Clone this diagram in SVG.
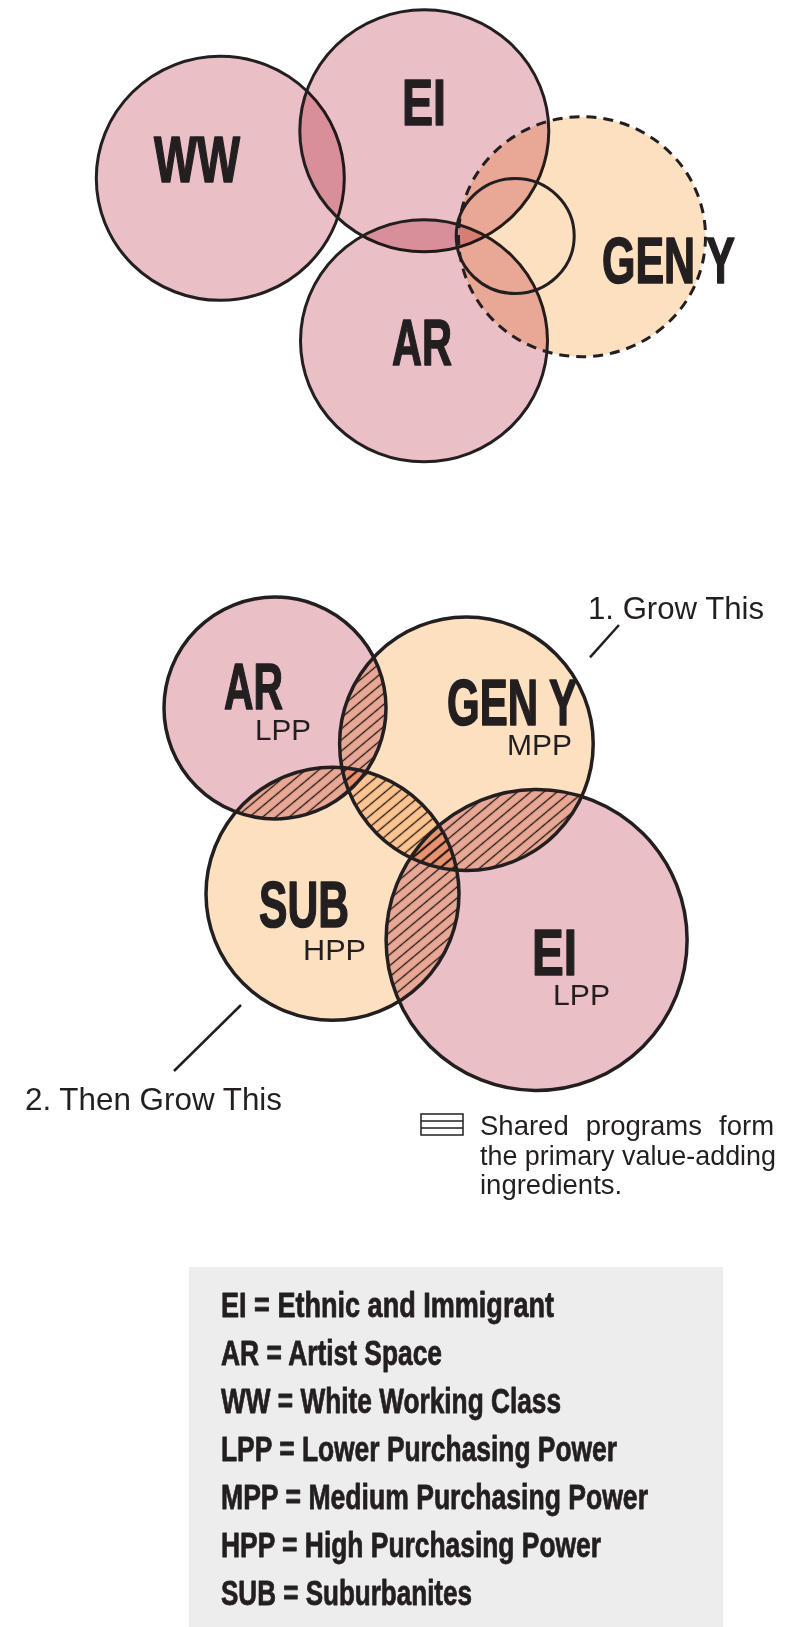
<svg xmlns="http://www.w3.org/2000/svg" width="800" height="1627" viewBox="0 0 800 1627">
<defs>
<style>
.pink{fill:#EBBFC6;mix-blend-mode:multiply}
.peach{fill:#FDE0C0;mix-blend-mode:multiply}
.ol{fill:none;stroke:#231F20;stroke-width:3}
.olb{fill:none;stroke:#231F20;stroke-width:3.5}
.dash{fill:none;stroke:#231F20;stroke-width:3;stroke-dasharray:10 7}
.big{font-family:"Liberation Sans",Arial,sans-serif;font-weight:bold;font-size:65px;fill:#231F20;stroke:#231F20;stroke-width:1.6;stroke-linejoin:round}
.sm{font-family:"Liberation Sans",Arial,sans-serif;font-size:30px;fill:#231F20}
.note{font-family:"Liberation Sans",Arial,sans-serif;font-size:32px;fill:#231F20}
.desc{font-family:"Liberation Sans",Arial,sans-serif;font-size:27.5px;fill:#231F20}
.leg{font-family:"Liberation Sans",Arial,sans-serif;font-weight:bold;font-size:35px;fill:#231F20;stroke:#231F20;stroke-width:0.8;stroke-linejoin:round}
.lead{stroke:#231F20;stroke-width:2.5;fill:none}
.hatch{mix-blend-mode:multiply}
</style>
<pattern id="hatch" patternUnits="userSpaceOnUse" width="8.5" height="8.5" patternTransform="rotate(50)">
<line x1="4.25" y1="-1" x2="4.25" y2="9.5" stroke="#231F20" stroke-width="1.3"/>
</pattern>
<clipPath id="cAR"><circle cx="275" cy="708" r="111"/></clipPath>
<clipPath id="cGY"><circle cx="466.4" cy="743.8" r="126.8"/></clipPath>
<clipPath id="cSUB"><circle cx="332.5" cy="893.8" r="126.5"/></clipPath>
</defs>
<rect width="800" height="1627" fill="#FFFFFF"/>

<!-- Top diagram -->
<g id="top-ww">
<ellipse class="pink" cx="220.3" cy="178.3" rx="124" ry="122"/>
<ellipse class="ol" cx="220.3" cy="178.3" rx="124" ry="122"/>
<text class="big" x="154" y="181.7" textLength="86" lengthAdjust="spacingAndGlyphs">WW</text>
</g>
<g id="top-ei">
<ellipse class="pink" cx="424.3" cy="130.8" rx="124.5" ry="121"/>
<ellipse class="ol" cx="424.3" cy="130.8" rx="124.5" ry="121"/>
<text class="big" x="402" y="125" textLength="44" lengthAdjust="spacingAndGlyphs">EI</text>
</g>
<g id="top-ar">
<ellipse class="pink" cx="424" cy="340.8" rx="123.5" ry="121"/>
<ellipse class="ol" cx="424" cy="340.8" rx="123.5" ry="121"/>
<text class="big" x="392" y="365" textLength="60" lengthAdjust="spacingAndGlyphs">AR</text>
</g>
<g id="top-geny">
<ellipse class="peach" cx="582" cy="236.7" rx="123.5" ry="120"/>
<ellipse class="dash" cx="582" cy="236.7" rx="123.5" ry="120"/>
<ellipse class="ol" cx="515.2" cy="236" rx="59" ry="57.5"/>
<text class="big" x="602" y="283.3" textLength="133" lengthAdjust="spacingAndGlyphs">GEN Y</text>
</g>

<!-- Bottom diagram fills -->
<g id="bot-ar">
<circle class="pink" cx="275" cy="708" r="111"/>
</g>
<g id="bot-geny">
<circle class="peach" cx="466.4" cy="743.8" r="126.8"/>
</g>
<g id="bot-sub">
<circle class="peach" cx="332.5" cy="893.8" r="126.5"/>
</g>
<g id="bot-ei">
<circle class="pink" cx="536.6" cy="940" r="150.5"/>
</g>

<g id="shared-hatch" class="hatch">
<circle cx="466.4" cy="743.8" r="126.8" fill="url(#hatch)" clip-path="url(#cAR)"/>
<circle cx="332.5" cy="893.8" r="126.5" fill="url(#hatch)" clip-path="url(#cAR)"/>
<circle cx="332.5" cy="893.8" r="126.5" fill="url(#hatch)" clip-path="url(#cGY)"/>
<circle cx="536.6" cy="940" r="150.5" fill="url(#hatch)" clip-path="url(#cGY)"/>
<circle cx="536.6" cy="940" r="150.5" fill="url(#hatch)" clip-path="url(#cSUB)"/>
</g>

<g id="bot-outlines">
<circle class="olb" cx="275" cy="708" r="111"/>
<circle class="olb" cx="466.4" cy="743.8" r="126.8"/>
<circle class="olb" cx="332.5" cy="893.8" r="126.5"/>
<circle class="olb" cx="536.6" cy="940" r="150.5"/>
</g>

<g id="bot-labels">
<text class="big" x="224" y="709.3" textLength="59" lengthAdjust="spacingAndGlyphs">AR</text>
<text class="sm" x="255" y="740" textLength="56" lengthAdjust="spacingAndGlyphs">LPP</text>
<text class="big" x="447" y="725" textLength="130" lengthAdjust="spacingAndGlyphs">GEN Y</text>
<text class="sm" x="507" y="755" textLength="65" lengthAdjust="spacingAndGlyphs">MPP</text>
<text class="big" x="259" y="926.7" textLength="90" lengthAdjust="spacingAndGlyphs">SUB</text>
<text class="sm" x="303" y="960" textLength="63" lengthAdjust="spacingAndGlyphs">HPP</text>
<text class="big" x="532" y="975" textLength="45" lengthAdjust="spacingAndGlyphs">EI</text>
<text class="sm" x="553" y="1005" textLength="57" lengthAdjust="spacingAndGlyphs">LPP</text>
</g>

<g id="connectors">
<line class="lead" x1="619" y1="625" x2="590" y2="657.3"/>
<line class="lead" x1="241" y1="1005" x2="174" y2="1071"/>
</g>

<g id="note-1">
<text class="note" x="588" y="619.3" textLength="176" lengthAdjust="spacingAndGlyphs">1. Grow This</text>
</g>
<g id="note-2">
<text class="note" x="25" y="1110" textLength="257" lengthAdjust="spacingAndGlyphs">2. Then Grow This</text>
</g>

<g id="hatch-legend">
<rect x="421" y="1114" width="42" height="21" fill="#FFFFFF" stroke="#231F20" stroke-width="1.5"/>
<line x1="421" y1="1121" x2="463" y2="1121" stroke="#231F20" stroke-width="1.5"/>
<line x1="421" y1="1128" x2="463" y2="1128" stroke="#231F20" stroke-width="1.5"/>
<text class="desc" x="480" y="1135" word-spacing="9.5">Shared programs form</text>
<text class="desc" x="480" y="1164.5" textLength="296" lengthAdjust="spacingAndGlyphs">the primary value-adding</text>
<text class="desc" x="480" y="1194">ingredients.</text>
</g>

<g id="key">
<rect x="189" y="1267" width="534" height="360" fill="#EDEDED"/>
<text class="leg" x="221" y="1316.7" textLength="333" lengthAdjust="spacingAndGlyphs">EI = Ethnic and Immigrant</text>
<text class="leg" x="221" y="1364.8" textLength="221" lengthAdjust="spacingAndGlyphs">AR = Artist Space</text>
<text class="leg" x="221" y="1412.8" textLength="340" lengthAdjust="spacingAndGlyphs">WW = White Working Class</text>
<text class="leg" x="221" y="1460.9" textLength="396" lengthAdjust="spacingAndGlyphs">LPP = Lower Purchasing Power</text>
<text class="leg" x="221" y="1508.9" textLength="427" lengthAdjust="spacingAndGlyphs">MPP = Medium Purchasing Power</text>
<text class="leg" x="221" y="1557" textLength="380" lengthAdjust="spacingAndGlyphs">HPP = High Purchasing Power</text>
<text class="leg" x="221" y="1605" textLength="251" lengthAdjust="spacingAndGlyphs">SUB = Suburbanites</text>
</g>
</svg>
